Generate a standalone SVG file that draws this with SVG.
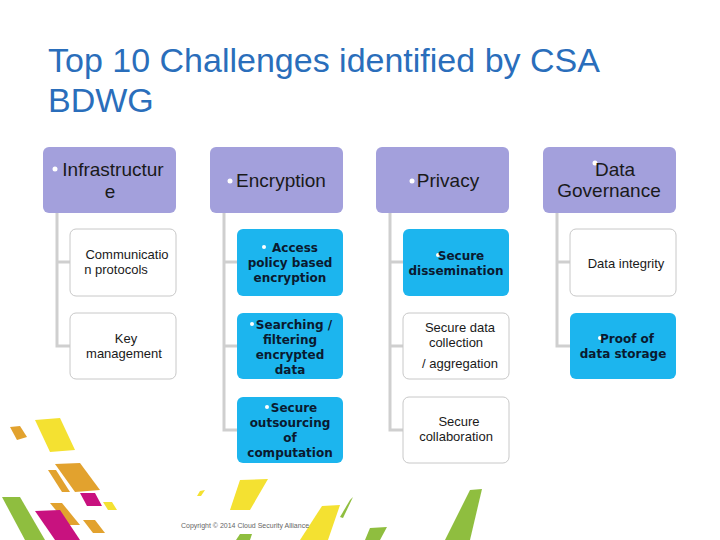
<svg xmlns="http://www.w3.org/2000/svg" width="720" height="540" viewBox="0 0 720 540">
<style>
.h{fill:#a3a0dc}
.w{fill:#fff;stroke:#c8c8c8;stroke-width:1}
.b{fill:#1cb5ee}
.c{stroke:#cfcfcf;stroke-width:3;fill:none}
.ht{font-family:"Liberation Sans",Arial,sans-serif;font-size:19px;fill:#1a1a1a;text-anchor:middle}
.wt{font-family:"Liberation Sans",Arial,sans-serif;font-size:13px;fill:#1a1a1a;text-anchor:middle}
.bt{font-family:"DejaVu Sans",sans-serif;font-weight:bold;font-size:12px;fill:#0a1a30;text-anchor:middle}
.dot{fill:#fff}
</style>
<rect width="720" height="540" fill="#fff"/>
<g id="deco">
<polygon points="10,427 20,426 27,437 17,440" fill="#e2a22e"/>
<polygon points="35,420 60,418 75,450 50,452" fill="#f4e131"/>
<polygon points="55,464 80,463 100,490 75,492" fill="#e2a22e"/>
<polygon points="48,470 56,470 70,492 62,492" fill="#e2a22e"/>
<polygon points="80,493 95,493 102,506 87,506" fill="#c8127f"/>
<polygon points="103,502 112,502 117,510 108,510" fill="#f4e131"/>
<polygon points="50,503 62,503 80,525 68,525" fill="#e2a22e"/>
<polygon points="2,497 20,497 45,540 25,540" fill="#8fbe3f"/>
<polygon points="35,511 60,510 80,540 55,540" fill="#c8127f"/>
<polygon points="83,520 95,520 105,533 93,533" fill="#e2a22e"/>
<polygon points="240,480 268,479 250,510 230,510" fill="#f4e131"/>
<polygon points="200,491 205,490 201,496 197,496" fill="#f4e131"/>
<polygon points="322,506 340,505 328,540 300,540" fill="#f4e131"/>
<polygon points="350,500 353,497 343,518 340,517" fill="#8fbe3f"/>
<polygon points="370,528 387,527 380,540 365,540" fill="#8fbe3f"/>
<polygon points="470,490 482,489 470,540 445,540 460,510" fill="#8fbe3f"/>
<polygon points="240,534 252,534 250,540 236,540" fill="#8fbe3f"/>
</g>
<g id="title" font-family="'Liberation Sans',Arial,sans-serif" font-size="34" fill="#2a6ebb">
<text x="48" y="72">Top 10 Challenges identified by CSA</text>
<text x="48" y="112">BDWG</text>
</g>
<g id="connectors" class="c">
<path d="M57,213 V346 H70 M57,262 H70"/>
<path d="M224,213 V430 H237 M224,262 H237 M224,346 H237"/>
<path d="M390,213 V430 H403 M390,262 H403 M390,346 H403"/>
<path d="M557,213 V346 H570 M557,262 H570"/>
</g>
<g id="h1"><rect class="h" x="43" y="147" width="133" height="66" rx="6"/><circle class="dot" cx="55" cy="169" r="2.5"/><text class="ht" x="113" y="176">Infrastructur</text><text class="ht" x="110" y="198">e</text></g>
<g id="h2"><rect class="h" x="210" y="147" width="133" height="66" rx="6"/><circle class="dot" cx="230" cy="181" r="2.5"/><text class="ht" x="281" y="187">Encryption</text></g>
<g id="h3"><rect class="h" x="376" y="147" width="133" height="66" rx="6"/><circle class="dot" cx="412" cy="181" r="2.5"/><text class="ht" x="448" y="187">Privacy</text></g>
<g id="h4"><rect class="h" x="543" y="147" width="133" height="66" rx="6"/><circle class="dot" cx="595" cy="163" r="2.5"/><text class="ht" x="615" y="176">Data</text><text class="ht" x="609" y="197">Governance</text></g>
<g id="c11"><rect class="w" x="70" y="229" width="106" height="67" rx="6"/><text class="wt" x="127" y="259">Communicatio</text><text class="wt" x="116" y="274">n protocols</text></g>
<g id="c12"><rect class="w" x="70" y="313" width="106" height="66" rx="6"/><text class="wt" x="126" y="343">Key</text><text class="wt" x="124" y="358">management</text></g>
<g id="c21"><rect class="b" x="237" y="229" width="106" height="67" rx="6"/><circle class="dot" cx="264" cy="247" r="2"/><text class="bt" x="295" y="252">Access</text><text class="bt" x="290" y="267">policy based</text><text class="bt" x="290" y="282">encryption</text></g>
<g id="c22"><rect class="b" x="237" y="313" width="106" height="66" rx="6"/><circle class="dot" cx="252" cy="324" r="2"/><text class="bt" x="294" y="329">Searching /</text><text class="bt" x="290" y="344">filtering</text><text class="bt" x="290" y="359">encrypted</text><text class="bt" x="290" y="374">data</text></g>
<g id="c23"><rect class="b" x="237" y="397" width="106" height="66" rx="6"/><circle class="dot" cx="267" cy="407" r="2"/><text class="bt" x="294" y="412">Secure</text><text class="bt" x="290" y="427">outsourcing</text><text class="bt" x="290" y="442">of</text><text class="bt" x="290" y="457">computation</text></g>
<g id="c31"><rect class="b" x="403" y="229" width="106" height="67" rx="6"/><circle class="dot" cx="438" cy="255" r="2"/><text class="bt" x="461" y="260">Secure</text><text class="bt" x="456" y="275">dissemination</text></g>
<g id="c32"><rect class="w" x="403" y="313" width="106" height="66" rx="6"/><text class="wt" x="460" y="332">Secure data</text><text class="wt" x="456" y="347">collection</text><text class="wt" x="460" y="368">/ aggregation</text></g>
<g id="c33"><rect class="w" x="403" y="397" width="106" height="66" rx="6"/><text class="wt" x="459" y="426">Secure</text><text class="wt" x="456" y="441">collaboration</text></g>
<g id="c41"><rect class="w" x="570" y="229" width="106" height="67" rx="6"/><text class="wt" x="626" y="268">Data integrity</text></g>
<g id="c42"><rect class="b" x="570" y="313" width="106" height="66" rx="6"/><circle class="dot" cx="600" cy="338" r="2"/><text class="bt" x="627" y="343">Proof of</text><text class="bt" x="623" y="358">data storage</text></g>
<text x="245" y="528" font-family="'Liberation Sans',Arial,sans-serif" font-size="7" fill="#666" text-anchor="middle">Copyright © 2014 Cloud Security Alliance</text>
</svg>
